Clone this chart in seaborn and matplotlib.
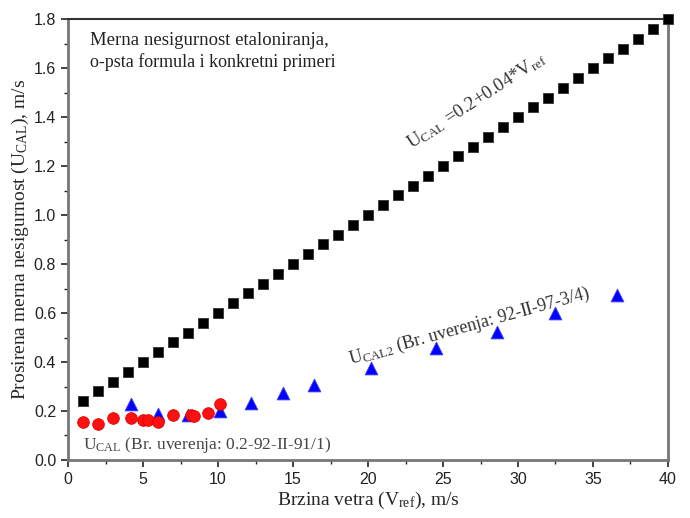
import numpy as np
import pandas as pd
import matplotlib
matplotlib.use("Agg")
import matplotlib.pyplot as plt
import seaborn as sns
from matplotlib.ticker import MultipleLocator, FormatStrFormatter

# opsta formula: U = 0.2 + 0.04 * V, tacke na svakih 1 m/s
v_formula = [1, 2, 3, 4, 5, 6, 7, 8, 9, 10, 11, 12, 13, 14, 15, 16, 17, 18, 19, 20,
             21, 22, 23, 24, 25, 26, 27, 28, 29, 30, 31, 32, 33, 34, 35, 36, 37, 38, 39, 40]
u_formula = [0.24, 0.28, 0.32, 0.36, 0.40, 0.44, 0.48, 0.52, 0.56, 0.60,
             0.64, 0.68, 0.72, 0.76, 0.80, 0.84, 0.88, 0.92, 0.96, 1.00,
             1.04, 1.08, 1.12, 1.16, 1.20, 1.24, 1.28, 1.32, 1.36, 1.40,
             1.44, 1.48, 1.52, 1.56, 1.60, 1.64, 1.68, 1.72, 1.76, 1.80]

# uverenje 0.2-92-II-91/1
v_cal1 = [1.0, 2.0, 3.0, 4.2, 5.0, 5.3, 6.0, 7.0, 8.2, 8.4, 9.3, 10.1]
u_cal1 = [0.155, 0.147, 0.172, 0.172, 0.162, 0.162, 0.156, 0.183, 0.183, 0.181, 0.193, 0.230]

# uverenje 92-II-97-3/4
v_cal2 = [4.2, 6.0, 8.0, 10.1, 12.2, 14.3, 16.4, 20.2, 24.5, 28.6, 32.5, 36.6]
u_cal2 = [0.228, 0.186, 0.184, 0.199, 0.234, 0.272, 0.306, 0.374, 0.456, 0.524, 0.601, 0.673]

df_f = pd.DataFrame({"V": v_formula, "U": u_formula})
df_1 = pd.DataFrame({"V": v_cal1, "U": u_cal1})
df_2 = pd.DataFrame({"V": v_cal2, "U": u_cal2})

sns.set_style("white")
plt.rcParams['font.family'] = ['Liberation Sans', 'DejaVu Sans']
plt.rcParams['mathtext.fontset'] = 'custom'
plt.rcParams['mathtext.rm'] = 'Liberation Serif'
plt.rcParams['mathtext.it'] = 'Liberation Serif'

fig = plt.figure(figsize=(6.9, 5.18), dpi=100)
ax = fig.add_axes([0.0986, 0.112, 0.8695, 0.851])

sns.scatterplot(data=df_f, x="V", y="U", marker="s", s=60, color="black",
                edgecolor="#333333", linewidth=0.6, ax=ax, zorder=3, clip_on=False)
sns.scatterplot(data=df_2, x="V", y="U", marker="^", s=85, color="#0000ff",
                edgecolor="#4040ff", linewidth=0.6, ax=ax, zorder=3)
sns.scatterplot(data=df_1, x="V", y="U", marker="o", s=70, color="#ff1010",
                edgecolor="#e00000", linewidth=0.6, ax=ax, zorder=4)

ax.set_xlim(0, 40)
ax.set_ylim(0, 1.8)
ax.xaxis.set_major_locator(MultipleLocator(5))
ax.xaxis.set_minor_locator(MultipleLocator(2.5))
ax.yaxis.set_major_locator(MultipleLocator(0.2))
ax.yaxis.set_minor_locator(MultipleLocator(0.1))
ax.yaxis.set_major_formatter(FormatStrFormatter("%.1f"))
ax.tick_params(axis="both", which="major", direction="out", length=5, width=1.2,
               labelsize=11.5, colors="#222222", bottom=True, left=True, top=False, right=False)
ax.tick_params(axis="both", which="minor", direction="out", length=3, width=1,
               bottom=True, left=True, top=False, right=False)

for side in ["left", "bottom", "right"]:
    ax.spines[side].set_color("#777777")
    ax.spines[side].set_linewidth(2)
ax.spines["top"].set_color("#333333")
ax.spines["top"].set_linewidth(1.5)

serif = ['Liberation Serif', 'DejaVu Serif']
ax.set_xlabel(r"Brzina vetra (V$_{ref}$), m/s", fontsize=14, family=serif, labelpad=2)
ax.set_ylabel(r"Prosirena merna nesigurnost (U$_{CAL}$), m/s", fontsize=14, family=serif, labelpad=2)

ax.text(1.45, 1.695, "Merna nesigurnost etaloniranja,", fontsize=13.5, family=serif, color="#222222")
ax.text(1.45, 1.605, "o-psta formula i konkretni primeri", fontsize=13, family=serif, color="#222222")
ax.text(22.9, 1.27, r"U$_{CAL}$ =0.2+0.04*V$_{ref}$", fontsize=13.5, family=serif,
        rotation=33, color="#333333", rotation_mode="anchor")
ax.text(18.8, 0.39, r"U$_{CAL2}$ (Br. uverenja: 92-II-97-3/4)", fontsize=13, family=serif,
        rotation=15.5, color="#333333", rotation_mode="anchor")
ax.text(1.0, 0.045, r"U$_{CAL}$ (Br. uverenja: 0.2-92-II-91/1)", fontsize=12.5, family=serif,
        color="#444444")

fig.savefig("out.png", dpi=100)
